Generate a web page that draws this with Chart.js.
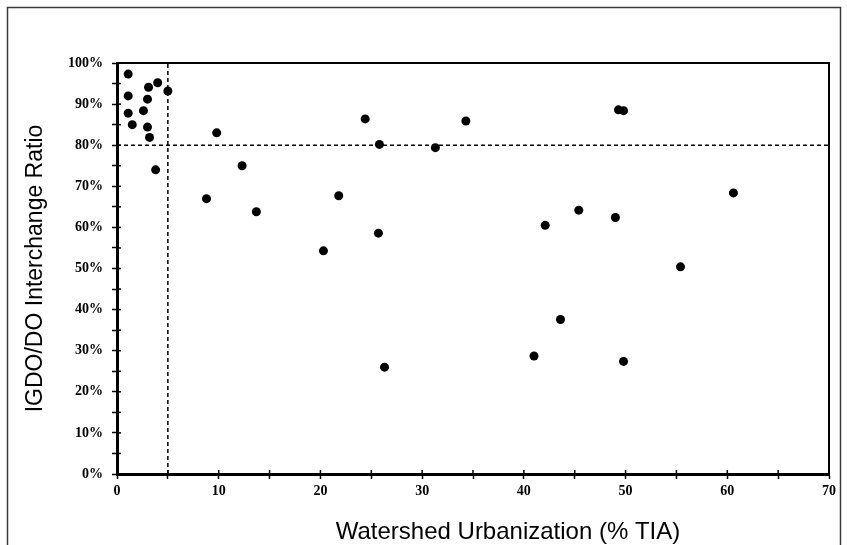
<!DOCTYPE html>
<html>
<head>
<meta charset="utf-8">
<script src="https://cdn.jsdelivr.net/npm/chart.js@4.4.1/dist/chart.umd.min.js"></script>
<style>
  html, body { margin: 0; padding: 0; background: #fff; }
  #wrap { width: 847px; height: 545px; }
</style>
</head>
<body>
<div id="wrap"><canvas id="c" width="847" height="545"></canvas></div>
<script>
// ---- Data ----
const urbanizationTIA = [
  1.1, 3.1, 4.0, 5.0, 1.1, 3.0, 2.6, 1.1, 1.5, 3.0, 3.2, 3.8,
  9.8, 24.4, 34.3, 25.8, 31.3, 12.3, 8.8, 13.7, 21.8, 25.7, 20.3, 26.3,
  49.3, 49.8, 60.6, 45.4, 49.0, 42.1, 55.4, 43.6, 41.0, 49.8
];
const interchangeRatio = [
  97.3, 94.1, 95.2, 93.2, 92.0, 91.2, 88.4, 87.8, 85.0, 84.4, 81.9, 74.0,
  83.0, 86.4, 85.9, 80.2, 79.4, 75.0, 67.0, 63.8, 67.7, 58.6, 54.3, 26.0,
  88.6, 88.4, 68.4, 64.2, 62.4, 60.5, 50.4, 37.6, 28.7, 27.4
];
const xTickLabels = ['0', '10', '20', '30', '40', '50', '60', '70'];
const yTickLabels = ['0%', '10%', '20%', '30%', '40%', '50%', '60%', '70%', '80%', '90%', '100%'];
const thresholdX = [5];
const thresholdY = [80];
const xTitle = 'Watershed Urbanization (% TIA)';
const yTitle = 'IGDO/DO Interchange Ratio';

const points = urbanizationTIA.map((x, i) => ({ x: x, y: interchangeRatio[i] }));

const tickFont = { family: '"Liberation Serif", "Times New Roman", serif', weight: 'bold', size: 14 };
const titleFont = { family: '"Liberation Sans", Arial, sans-serif', size: 23 };
const xTitleSize = 24;

const decor = {
  id: 'decor',
  beforeDraw(chart) {
    const ctx = chart.ctx;
    ctx.save();
    ctx.strokeStyle = '#3a3a3a';
    ctx.lineWidth = 1.5;
    ctx.strokeRect(7.5, 7.5, 833, 600);
    ctx.restore();
  },
  beforeDatasetsDraw(chart) {
    const ctx = chart.ctx;
    const xs = chart.scales.x, ys = chart.scales.y;
    const a = chart.chartArea;
    ctx.save();
    ctx.strokeStyle = '#000';
    ctx.lineWidth = 1.5;
    ctx.setLineDash([4, 3]);
    thresholdX.forEach(v => {
      const px = xs.getPixelForValue(v);
      ctx.beginPath();
      ctx.moveTo(px, ys.getPixelForValue(ys.min));
      ctx.lineTo(px, ys.getPixelForValue(ys.max));
      ctx.stroke();
    });
    thresholdY.forEach(v => {
      const py = ys.getPixelForValue(v);
      ctx.beginPath();
      ctx.moveTo(xs.getPixelForValue(xs.min), py);
      ctx.lineTo(xs.getPixelForValue(xs.max), py);
      ctx.stroke();
    });
    ctx.setLineDash([]);
    ctx.lineWidth = 2;
    ctx.beginPath();
    ctx.moveTo(a.left, a.top);
    ctx.lineTo(a.right, a.top);
    ctx.lineTo(a.right, a.bottom);
    ctx.stroke();
    ctx.lineWidth = 1.5;
    ys.ticks.forEach(t => {
      const py = ys.getPixelForValue(t.value);
      ctx.beginPath();
      ctx.moveTo(a.left, py);
      ctx.lineTo(a.left + 4, py);
      ctx.stroke();
    });
    xs.ticks.forEach(t => {
      const px = xs.getPixelForValue(t.value);
      ctx.beginPath();
      ctx.moveTo(px, a.bottom);
      ctx.lineTo(px, a.bottom - 4);
      ctx.stroke();
    });
    ctx.restore();
  },
  afterDraw(chart) {
    const ctx = chart.ctx;
    ctx.save();
    ctx.fillStyle = '#000';
    ctx.font = xTitleSize + 'px ' + titleFont.family;
    ctx.textAlign = 'center';
    ctx.textBaseline = 'alphabetic';
    ctx.fillText(xTitle, 508, 539);
    ctx.restore();
  }
};

new Chart(document.getElementById('c'), {
  type: 'scatter',
  data: {
    datasets: [{
      label: 'Sites',
      data: points,
      backgroundColor: '#000',
      borderColor: '#000',
      borderWidth: 0,
      pointRadius: 4.5,
      pointHoverRadius: 4.5
    }]
  },
  options: {
    responsive: false,
    animation: false,
    events: [],
    layout: { padding: { top: 63, right: 18, left: 0, bottom: 0 } },
    plugins: { legend: { display: false }, tooltip: { enabled: false }, title: { display: false } },
    scales: {
      x: {
        type: 'linear',
        min: 0, max: 70,
        afterFit(scale) { scale.height = 71; },
        afterBuildTicks(scale) {
          scale.ticks = [];
          for (let v = 0; v <= 70; v += 5) scale.ticks.push({ value: v });
        },
        ticks: {
          autoSkip: false, maxRotation: 0, color: '#000', font: tickFont, padding: 4,
          callback: (v) => (v % 10 === 0 ? xTickLabels[v / 10] : '')
        },
        grid: { drawOnChartArea: false, drawTicks: true, tickLength: 5, tickColor: '#000', tickWidth: 1.5 },
        border: { display: true, color: '#000', width: 3 },
        title: { display: false }
      },
      y: {
        type: 'linear',
        min: 0, max: 100,
        afterFit(scale) { scale.width = 117; },
        afterBuildTicks(scale) {
          scale.ticks = [];
          for (let v = 0; v <= 100; v += 5) scale.ticks.push({ value: v });
        },
        ticks: {
          autoSkip: false, color: '#000', font: tickFont, padding: 9,
          callback: (v) => (v % 10 === 0 ? yTickLabels[v / 10] : '')
        },
        grid: { drawOnChartArea: false, drawTicks: true, tickLength: 5, tickColor: '#000', tickWidth: 1.5 },
        border: { display: true, color: '#000', width: 3 },
        title: {
          display: true, text: yTitle, color: '#000', font: titleFont,
          padding: { top: 22, bottom: 0 }
        }
      }
    }
  },
  plugins: [decor]
});
</script>
</body>
</html>
